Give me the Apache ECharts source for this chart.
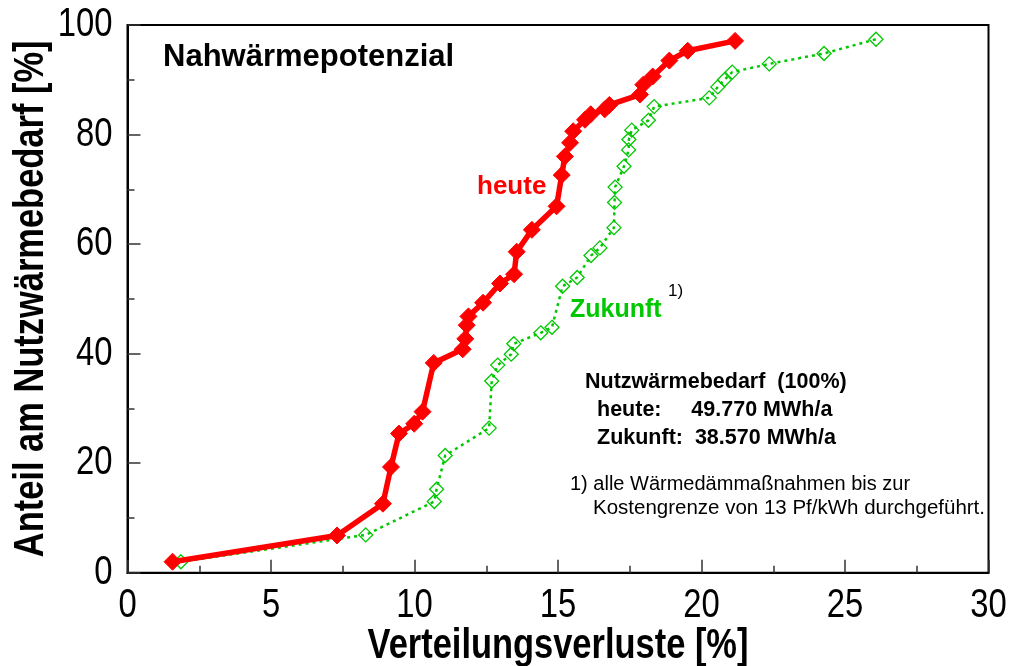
<!DOCTYPE html>
<html><head><meta charset="utf-8">
<script src="https://cdn.jsdelivr.net/npm/echarts@6/dist/echarts.min.js"></script>
<style>html,body{margin:0;padding:0;background:#fff}#c{width:1009px;height:666px}</style>
</head><body><div id="c"></div>
<script>
// Verteilungsverluste [%] / Anteil am Nutzwärmebedarf [%]
const heuteX = [1.57,7.3,8.9,9.18,9.46,9.99,10.28,10.67,11.68,11.77,11.82,11.88,12.39,12.98,13.47,13.56,14.09,14.95,15.13,15.24,15.42,15.53,15.94,16.14,16.63,16.79,17.86,17.97,18.3,18.88,19.52,21.17];
const heuteY = [2.0,6.8,12.6,19.3,25.4,27.2,29.4,38.3,40.8,42.7,45.2,46.8,49.3,52.8,54.5,58.6,62.6,66.9,72.6,76.0,78.5,80.6,82.7,83.7,84.6,85.4,87.3,89.1,90.6,93.5,95.3,97.1];
const zukunftX = [1.86,8.3,10.69,10.77,11.07,12.6,12.69,12.9,13.37,13.46,14.4,14.79,15.16,15.67,16.15,16.46,16.95,16.97,16.99,17.3,17.46,17.47,17.57,18.15,18.35,20.27,20.57,20.8,21.07,22.36,24.27,26.08];
const zukunftY = [2.0,6.9,13.0,15.25,21.4,26.4,35.0,37.9,39.9,41.8,43.8,44.8,52.3,53.9,57.9,59.3,63.0,67.6,70.4,74.2,77.2,79.1,80.8,82.6,85.1,86.7,88.7,90.0,91.4,92.9,94.8,97.4];
const xTicks = [0,5,10,15,20,25,30];
const yTicks = [0,20,40,60,80,100];
const xTitle = 'Verteilungsverluste [%]';
const yTitle = 'Anteil am Nutzwärmebedarf [%]';

const F = 'Liberation Sans, Arial, sans-serif';
const NARROW = 0.82; // emulate a narrow (condensed) face
const chart = echarts.init(document.getElementById('c'), null, {renderer:'canvas'});
const pair = (xs, ys) => xs.map((x,i)=>[x, ys[i]]);
const staticText = [
  {type:'text',left:163,top:42,style:{text:'Nahwärmepotenzial',font:'bold 31px '+F,fill:'#000'}},
  {type:'text',left:477,top:174,style:{text:'heute',font:'bold 26px '+F,fill:'#ff0000'}},
  {type:'text',left:570,top:298,style:{text:'Zukunft',font:'bold 25px '+F,fill:'#00c800'}},
  {type:'text',left:668,top:283,style:{text:'1)',font:'17px '+F,fill:'#000'}},
  {type:'text',left:585,top:371,style:{text:'Nutzwärmebedarf  (100%)',font:'bold 21.5px '+F,fill:'#000'}},
  {type:'text',left:597,top:399,style:{text:'heute:     49.770 MWh/a',font:'bold 21.5px '+F,fill:'#000'}},
  {type:'text',left:597,top:427,style:{text:'Zukunft:  38.570 MWh/a',font:'bold 21.5px '+F,fill:'#000'}},
  {type:'text',left:570,top:474,style:{text:'1) alle Wärmedämmaßnahmen bis zur',font:'20px '+F,fill:'#000'}},
  {type:'text',left:593,top:498,style:{text:'Kostengrenze von 13 Pf/kWh durchgeführt.',font:'20.5px '+F,fill:'#000'}}
];
const axisCommon = {
  axisLine:{show:true,lineStyle:{color:'#000',width:2}},
  axisTick:{show:true,inside:true,length:13,lineStyle:{color:'#333',width:1.5}},
  minorTick:{show:true,splitNumber:2,length:7,lineStyle:{color:'#333',width:1.5}},
  splitLine:{show:false},
  axisLabel:{show:false}
};
chart.setOption({
  animation:false,
  grid:{left:127.5,right:20.5,top:25,bottom:93.3,containLabel:false,outerBoundsMode:'none',
    show:true,borderColor:'#000',borderWidth:2,backgroundColor:'transparent'},
  xAxis:Object.assign({type:'value',min:xTicks[0],max:xTicks[xTicks.length-1],interval:5},axisCommon),
  yAxis:Object.assign({type:'value',min:yTicks[0],max:yTicks[yTicks.length-1],interval:20},axisCommon),
  series:[
    {name:'Zukunft',type:'line',data:pair(zukunftX,zukunftY),symbol:'diamond',symbolSize:14,
      lineStyle:{color:'#00c800',width:2.5,type:[3,4]},
      itemStyle:{color:'rgba(255,255,255,0)',borderColor:'#00c800',borderWidth:1.3},z:2},
    {name:'heute',type:'line',data:pair(heuteX,heuteY),symbol:'diamond',symbolSize:17,
      lineStyle:{color:'#ff0000',width:5.5},
      itemStyle:{color:'#ff0000',borderColor:'#ff0000',borderWidth:1},z:3}
  ],
  graphic:staticText
});
// tick labels and axis titles placed through the axes' own scales
const x0 = chart.convertToPixel({xAxisIndex:0}, xTicks[0]);
const x1 = chart.convertToPixel({xAxisIndex:0}, xTicks[xTicks.length-1]);
const y0 = chart.convertToPixel({yAxisIndex:0}, yTicks[0]);
const y1 = chart.convertToPixel({yAxisIndex:0}, yTicks[yTicks.length-1]);
const labels = [];
xTicks.forEach(v=>{
  labels.push({type:'text',x:chart.convertToPixel({xAxisIndex:0}, v),y:y0+33,scaleX:NARROW,
    style:{text:String(v),x:0,y:0,align:'center',verticalAlign:'middle',font:'40px '+F,fill:'#000'}});
});
yTicks.forEach(v=>{
  labels.push({type:'text',x:x0-15,y:chart.convertToPixel({yAxisIndex:0}, v),scaleX:NARROW,
    style:{text:String(v),x:0,y:0,align:'right',verticalAlign:'middle',font:'40px '+F,fill:'#000'}});
});
labels.push({type:'text',x:(x0+x1)/2,y:y0+74,scaleX:NARROW,
  style:{text:xTitle,x:0,y:0,align:'center',verticalAlign:'middle',font:'bold 42px '+F,fill:'#000'}});
labels.push({type:'text',x:31,y:(y0+y1)/2,rotation:Math.PI/2,scaleX:NARROW,
  style:{text:yTitle,x:0,y:0,align:'center',verticalAlign:'middle',font:'bold 42px '+F,fill:'#000'}});
chart.setOption({graphic:staticText.concat(labels)});
</script></body></html>
